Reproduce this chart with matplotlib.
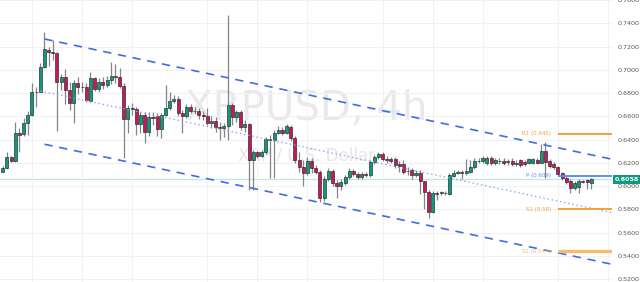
import numpy as np
import matplotlib
matplotlib.use("Agg")
import matplotlib.pyplot as plt
import matplotlib.transforms as mtransforms
from matplotlib.patches import Rectangle

# XRPUSD 4h candles
opens = [0.6124, 0.6156, 0.6248, 0.6216, 0.6455, 0.6445, 0.6546, 0.6608, 0.6812, 0.6812,
         0.7027, 0.7170, 0.7156, 0.7147, 0.6898, 0.6941, 0.6826, 0.6713, 0.6887, 0.6852,
         0.6850, 0.6735, 0.6927, 0.6835, 0.6898, 0.6869, 0.6912, 0.6947, 0.6942, 0.6861,
         0.6575, 0.6669, 0.6663, 0.6534, 0.6612, 0.6468, 0.6597, 0.6603, 0.6489, 0.6612,
         0.6674, 0.6732, 0.6747, 0.6626, 0.6603, 0.6678, 0.6649, 0.6646, 0.6612, 0.6607,
         0.6540, 0.6560, 0.6511, 0.6497, 0.6517, 0.6698, 0.6594, 0.6635, 0.6506, 0.6534,
         0.6225, 0.6291, 0.6262, 0.6291, 0.6403, 0.6397, 0.6459, 0.6483, 0.6459, 0.6511,
         0.6411, 0.6225, 0.6162, 0.6116, 0.6219, 0.6153, 0.6124, 0.5896, 0.6061, 0.6133,
         0.6030, 0.6001, 0.6030, 0.6076, 0.6133, 0.6104, 0.6076, 0.6104, 0.6096, 0.6210,
         0.6248, 0.6274, 0.6231, 0.6231, 0.6231, 0.6190, 0.6190, 0.6133, 0.6139, 0.6096,
         0.6116, 0.6040, 0.5952, 0.5780, 0.5933, 0.5944, 0.5937, 0.5933, 0.6087, 0.6116,
         0.6116, 0.6110, 0.6124, 0.6162, 0.6219, 0.6219, 0.6196, 0.6239, 0.6196, 0.6219,
         0.6219, 0.6208, 0.6219, 0.6190, 0.6225, 0.6210, 0.6202, 0.6202, 0.6225, 0.6202,
         0.6305, 0.6219, 0.6190, 0.6162, 0.6110, 0.6067, 0.6047, 0.5982, 0.5990, 0.6047,
         0.6053, 0.6030]
closes = [0.6159, 0.6248, 0.6216, 0.6455, 0.6443, 0.6546, 0.6612, 0.6812, 0.6805, 0.7027,
          0.7176, 0.7156, 0.7147, 0.6898, 0.6941, 0.6826, 0.6713, 0.6887, 0.6852, 0.6850,
          0.6741, 0.6927, 0.6839, 0.6898, 0.6869, 0.6912, 0.6947, 0.6941, 0.6861, 0.6575,
          0.6669, 0.6665, 0.6534, 0.6612, 0.6468, 0.6597, 0.6590, 0.6489, 0.6612, 0.6674,
          0.6732, 0.6747, 0.6626, 0.6603, 0.6683, 0.6649, 0.6646, 0.6612, 0.6607, 0.6540,
          0.6563, 0.6506, 0.6504, 0.6517, 0.6698, 0.6594, 0.6635, 0.6506, 0.6534, 0.6225,
          0.6291, 0.6262, 0.6291, 0.6403, 0.6398, 0.6459, 0.6483, 0.6459, 0.6517, 0.6411,
          0.6225, 0.6162, 0.6113, 0.6219, 0.6152, 0.6124, 0.5902, 0.6061, 0.6133, 0.6025,
          0.6001, 0.6038, 0.6076, 0.6133, 0.6104, 0.6076, 0.6104, 0.6096, 0.6210, 0.6248,
          0.6274, 0.6231, 0.6227, 0.6219, 0.6182, 0.6173, 0.6124, 0.6130, 0.6096, 0.6116,
          0.6040, 0.5952, 0.5780, 0.5937, 0.5944, 0.5945, 0.5945, 0.6096, 0.6116, 0.6117,
          0.6115, 0.6133, 0.6162, 0.6219, 0.6212, 0.6239, 0.6239, 0.6196, 0.6225, 0.6212,
          0.6196, 0.6210, 0.6190, 0.6195, 0.6182, 0.6190, 0.6231, 0.6231, 0.6202, 0.6305,
          0.6210, 0.6173, 0.6162, 0.6104, 0.6067, 0.6038, 0.5982, 0.6030, 0.6047, 0.6038,
          0.6038, 0.6058]
highs = [0.6171, 0.6296, 0.6259, 0.6548, 0.6500, 0.6584, 0.6646, 0.6884, 0.6855, 0.7058,
         0.7328, 0.7199, 0.7256, 0.7156, 0.6964, 0.7004, 0.6895, 0.6912, 0.6942, 0.6895,
         0.6884, 0.6984, 0.6941, 0.6927, 0.6941, 0.6947, 0.7070, 0.7050, 0.7016, 0.6884,
         0.6698, 0.6715, 0.6681, 0.6640, 0.6640, 0.6640, 0.6637, 0.6626, 0.6629, 0.6869,
         0.6812, 0.6783, 0.6775, 0.6655, 0.6707, 0.6707, 0.6681, 0.6672, 0.6646, 0.6672,
         0.6603, 0.6592, 0.6554, 0.6540, 0.7471, 0.6713, 0.6655, 0.6655, 0.6569, 0.6543,
         0.6311, 0.6302, 0.6311, 0.6422, 0.6440, 0.6483, 0.6517, 0.6508, 0.6534, 0.6526,
         0.6431, 0.6294, 0.6225, 0.6251, 0.6242, 0.6182, 0.6139, 0.6087, 0.6156, 0.6147,
         0.6053, 0.6061, 0.6096, 0.6156, 0.6147, 0.6122, 0.6122, 0.6122, 0.6225, 0.6268,
         0.6294, 0.6294, 0.6259, 0.6251, 0.6251, 0.6216, 0.6225, 0.6167, 0.6156, 0.6139,
         0.6139, 0.6044, 0.5967, 0.5958, 0.5961, 0.5961, 0.5958, 0.6113, 0.6139, 0.6139,
         0.6139, 0.6233, 0.6225, 0.6239, 0.6242, 0.6259, 0.6259, 0.6259, 0.6242, 0.6242,
         0.6242, 0.6233, 0.6238, 0.6225, 0.6233, 0.6225, 0.6242, 0.6246, 0.6238, 0.6362,
         0.6382, 0.6233, 0.6208, 0.6173, 0.6122, 0.6087, 0.6061, 0.6044, 0.6061, 0.6057,
         0.6061, 0.6066]
lows = [0.6119, 0.6148, 0.6210, 0.6208, 0.6294, 0.6432, 0.6440, 0.6603, 0.6683, 0.6805,
        0.7016, 0.7035, 0.7084, 0.6474, 0.6826, 0.6707, 0.6655, 0.6543, 0.6792, 0.6809,
        0.6726, 0.6726, 0.6818, 0.6812, 0.6835, 0.6850, 0.6878, 0.6887, 0.6841, 0.6239,
        0.6457, 0.6612, 0.6440, 0.6455, 0.6368, 0.6431, 0.6526, 0.6431, 0.6411, 0.6603,
        0.6655, 0.6715, 0.6603, 0.6460, 0.6586, 0.6629, 0.6620, 0.6577, 0.6569, 0.6526,
        0.6500, 0.6468, 0.6397, 0.6425, 0.6397, 0.6526, 0.6554, 0.6483, 0.6468, 0.5967,
        0.5967, 0.6242, 0.6251, 0.6276, 0.6070, 0.6070, 0.6449, 0.6440, 0.6449, 0.6388,
        0.6199, 0.6122, 0.6001, 0.6096, 0.6113, 0.6104, 0.5866, 0.5872, 0.6044, 0.6001,
        0.5898, 0.5967, 0.6010, 0.6061, 0.6087, 0.6061, 0.6061, 0.6079, 0.6079, 0.6190,
        0.6234, 0.6216, 0.6199, 0.6199, 0.6156, 0.6122, 0.6104, 0.6096, 0.6061, 0.6079,
        0.5933, 0.5804, 0.5726, 0.5769, 0.5881, 0.5924, 0.5924, 0.5924, 0.6076, 0.6104,
        0.6059, 0.6096, 0.6110, 0.6147, 0.6199, 0.6199, 0.6186, 0.6182, 0.6182, 0.6190,
        0.6182, 0.6182, 0.6173, 0.6173, 0.6165, 0.6173, 0.6190, 0.6190, 0.6190, 0.6195,
        0.6067, 0.6156, 0.6147, 0.6087, 0.6053, 0.6019, 0.5944, 0.5967, 0.5944, 0.6027,
        0.5976, 0.5976]

# descending channel (bar index, price)
channel_x = [10, 146]
upper_line = [0.7265, 0.6231]
lower_line = [0.6360, 0.5328]
mid_x = [9, 146]
mid_line = [0.6818, 0.5772]

# pivot levels
pivot_names = ["R1", "P", "S1", "S2"]
pivot_values = [0.645, 0.609, 0.580, 0.544]
pivot_start = 133

last_price = 0.6058
day_marks = [7, 19, 31, 49, 61, 73, 91, 103, 115, 133, 145]
price_ticks = np.arange(0.52, 0.7601, 0.02)

up_col = "#0e9980"
down_col = "#c8175a"

fig = plt.figure(figsize=(6.4, 2.82), dpi=100)
ax = fig.add_axes([0, 0, 612 / 640, 1])

o = np.array(opens)
c = np.array(closes)
h = np.array(highs)
l = np.array(lows)
x = np.arange(len(o))
cols = np.where(c >= o, up_col, down_col)

ax.vlines(x, l, h, color="#858585", lw=0.9, zorder=3)
body = np.maximum(np.abs(c - o), 0.0004)
ax.bar(x, body, bottom=np.minimum(o, c), width=0.72, color=cols,
       edgecolor="#262626", linewidth=0.45, zorder=4)

# watermark
ax.text(0.5, 0.615, "XRPUSD, 4h", transform=ax.transAxes, ha="center", va="center",
        fontsize=29, color="#e9e9ec", zorder=0)
ax.text(0.5, 0.45, "XRP / U.S. Dollar", transform=ax.transAxes, ha="center", va="center",
        fontsize=12, color="#e6e6ea", zorder=0)

# last price line
ax.axhline(last_price, color="#bfe6df", lw=0.9, zorder=1)

# channel
ax.plot(channel_x, upper_line, color="#3d6fe3", lw=1.2, dashes=(5, 4), zorder=5)
ax.plot(channel_x, lower_line, color="#3d6fe3", lw=1.2, dashes=(5, 4), zorder=5)
ax.plot(mid_x, mid_line, color="#86a6ee", lw=0.9, dashes=(1.2, 2.2), zorder=5)

# pivots
pcolors = ["#f6a031", "#5d8ff0", "#f6a031", "#f8bb72"]
pwidths = [1.4, 1.4, 1.4, 2.4]
for name, val, pc, pw in zip(pivot_names, pivot_values, pcolors, pwidths):
    ax.plot([pivot_start, 146], [val, val], color=pc, lw=pw, zorder=6, solid_capstyle="butt")
    ax.text(131.3, val, f"{name} ({val:g})", color=pc, fontsize=4, ha="right", va="center", zorder=6)

ax.set_xlim(-0.65, 145.95)
ax.set_ylim(0.5176, 0.76)
ax.set_xticks(day_marks)
ax.set_yticks(price_ticks)
ax.set_yticklabels([f"{t:.4f}" for t in price_ticks])
ax.yaxis.tick_right()
ax.tick_params(axis="y", length=0, pad=4, labelsize=4.6, labelcolor="#555555")
ax.tick_params(axis="x", length=0, labelbottom=False)
ax.grid(True, color="#f1f1f3", lw=0.7, zorder=0)
for s in ax.spines.values():
    s.set_visible(False)

# price tag on the axis
tag_tr = mtransforms.blended_transform_factory(fig.transFigure, ax.transData)
fig.add_artist(Rectangle((613 / 640, last_price - 0.0038), 27 / 640, 0.0076,
                         transform=tag_tr, fc="#0e9980", ec="none", zorder=10))
fig.text(626.5 / 640, last_price, f"{last_price:.4f}", transform=tag_tr, ha="center",
         va="center", fontsize=4.6, fontweight="bold", color="white", zorder=11)

fig.savefig("out.png", dpi=100)
